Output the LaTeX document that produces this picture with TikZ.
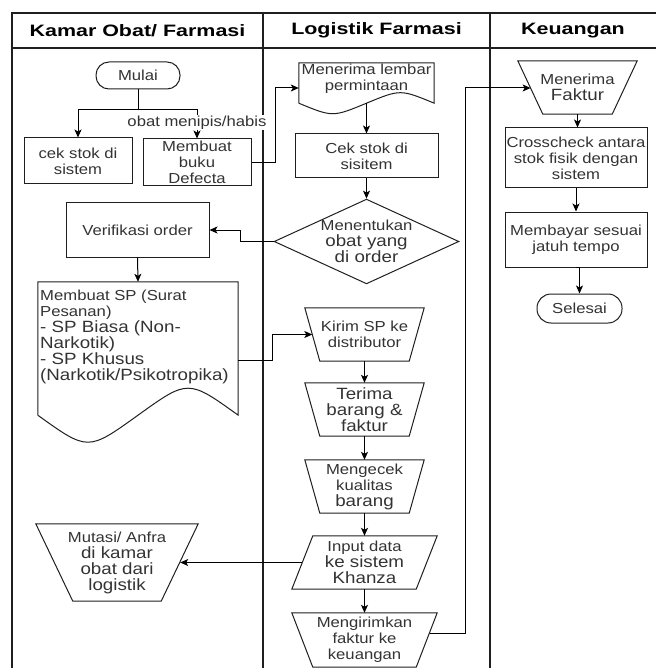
\documentclass[tikz,border=0pt]{standalone}
\usepackage{fontspec}
\setmainfont{Liberation Sans}[FakeStretch=1.15]
\newfontfamily\hfont{Liberation Sans}[FakeStretch=1.3]
\usetikzlibrary{calc,arrows.meta,shapes.geometric}
\definecolor{txtc}{rgb}{0.2,0.2,0.2}
\definecolor{linec}{rgb}{0.12,0.12,0.12}
\newcommand\bigt[1]{{\fontsize{16.3}{16}\selectfont #1}}
\newcommand\invtrap[2]{\draw[shapeline] (#1.north west) -- (#1.north east) -- ($(#1.south east)+(-#2,0)$) -- ($(#1.south west)+(#2,0)$) -- cycle;}
\newcommand\paral[2]{\draw[shapeline] (#1.south west) -- ($(#1.north west)+(#2,0)$) -- (#1.north east) -- ($(#1.south east)+(-#2,0)$) -- cycle;}
\newcommand\docshape[2]{\draw[shapeline] (#1.south west) -- (#1.north west) -- (#1.north east) -- (#1.south east) .. controls ($(#1.south east)!0.25!(#1.south west)+(0,-#2)$) .. (#1.south) .. controls ($(#1.south west)!0.25!(#1.south east)+(0,#2)$) .. (#1.south west);}
\begin{document}
\begin{tikzpicture}[x=1pt,y=-1pt,
  txt/.style={font=\fontsize{14.5}{16}\selectfont, text=txtc, align=center, inner sep=0pt},
  hdr/.style={font=\hfont\bfseries\fontsize{16.5}{18}\selectfont, text=black, inner sep=0pt},
  shapeline/.style={draw=linec, line width=1pt},
  boxn/.style={txt, shapeline, rectangle},
  term/.style={boxn, rounded corners=13pt},
  shp/.style={txt, rectangle, draw=none},
  dia/.style={txt, shapeline, diamond, aspect=2.18},
  lane/.style={draw=linec, line width=1.3pt},
  lbl/.style={txt, fill=white, inner sep=1pt},
  arr/.style={draw=black, line width=1pt, -{Stealth[length=8pt,width=7pt,inset=2pt]}}]
\useasboundingbox (0,0) rectangle (656,668);

% swimlanes
\draw[lane] (12,668) -- (12,13) -- (656,13);
\draw[lane] (12,48) -- (656,48);
\draw[lane] (263,13) -- (263,668);
\draw[lane] (490,13) -- (490,668);
\node[hdr] (h1) at (137.5,30.5) {Kamar Obat/ Farmasi};
\node[hdr] (h2) at (376.5,30.5) {Logistik Farmasi};
\node[hdr] (h3) at (573,30.5) {Keuangan};

% lane 1
\node[term, minimum width=84pt, minimum height=27pt] (mulai) at (138,75.5) {Mulai};
\node[boxn, minimum width=108pt, minimum height=46pt] (cek1) at (78,161) {cek stok di\\sistem};
\node[boxn, minimum width=108pt, minimum height=47pt] (defecta) at (197,162.5) {Membuat\\buku\\Defecta};
\node[boxn, minimum width=143pt, minimum height=54pt] (verif) at (137.5,230) {Verifikasi order};
\node[shp, minimum width=200pt, minimum height=133pt] (spbox) at (138,348.5) {};
\docshape{spbox}{36}
\node[txt, align=left, anchor=west] (sptext) at (40,336.5) {Membuat SP (Surat\\Pesanan)\\\bigt{- SP Biasa (Non-}\\\bigt{Narkotik)}\\\bigt{- SP Khusus}\\\bigt{(Narkotik/Psikotropika)}};
\node[shp, minimum width=162pt, minimum height=77pt] (mutasi) at (117,562.5) {Mutasi/ Anfra\\\bigt{di kamar}\\\bigt{obat dari}\\\bigt{logistik}};
\invtrap{mutasi}{37}

% lane 2
\node[shp, minimum width=135pt, minimum height=40pt] (lembar) at (366.5,83) {};
\docshape{lembar}{14}
\node[txt] (lembartxt) at (366.5,78.5) {Menerima lembar\\permintaan};
\node[boxn, minimum width=143pt, minimum height=44pt] (cek2) at (366.5,156) {Cek stok di\\sisitem};
\node[dia, minimum width=181pt, minimum height=83pt] (dec) at (366.5,241.5) {Menentukan\\\bigt{obat yang}\\\bigt{di order}};
\node[shp, minimum width=119pt, minimum height=53pt] (kirim) at (364.5,334.5) {Kirim SP ke\\distributor};
\invtrap{kirim}{15}
\node[shp, minimum width=119pt, minimum height=53pt] (terima) at (364.5,409.5) {\bigt{Terima}\\\bigt{barang \&}\\\bigt{faktur}};
\invtrap{terima}{15}
\node[shp, minimum width=119pt, minimum height=53pt] (kualitas) at (364.5,486.5) {Mengecek\\kualitas\\\bigt{barang}};
\invtrap{kualitas}{15}
\node[shp, minimum width=145pt, minimum height=53pt] (input) at (364.5,562.5) {Input data\\\bigt{ke sistem}\\\bigt{Khanza}};
\paral{input}{21}
\node[shp, minimum width=145pt, minimum height=54pt] (kirimf) at (364.5,640) {Mengirimkan\\faktur ke\\keuangan};
\invtrap{kirimf}{21}

% lane 3
\node[shp, minimum width=119pt, minimum height=53pt] (faktur) at (577.5,87.5) {Menerima\\\bigt{Faktur}};
\invtrap{faktur}{25}
\node[boxn, minimum width=142pt, minimum height=60pt] (cross) at (576,158) {Crosscheck antara\\stok fisik dengan\\sistem};
\node[boxn, minimum width=142pt, minimum height=55pt] (bayar) at (576,239.5) {Membayar sesuai\\jatuh tempo};
\node[term, minimum width=85pt, minimum height=29pt, rounded corners=14pt] (selesai) at (579.5,308.5) {Selesai};

% connectors
\coordinate (split) at (138,110);
\draw[arr] (mulai.south) -- (split) -| (cek1.north);
\draw[arr] (split) -| node[lbl, pos=0.72] (lblobat) {obat menipis/habis} (defecta.north);
\draw[arr] (defecta.east) -- ++(24,0) |- ($(lembar.west)+(0,5)$);
\draw[arr] (lembar.south) -- (cek2.north);
\draw[arr] (cek2.south) -- (dec.north);
\draw[arr] (dec.west) -- ++(-33.5,0) |- (verif.east);
\draw[arr] (verif.south) -- (spbox.north);
\draw[arr] ($(spbox.east)+(0,11.5)$) -- ++(34,0) |- ($(kirim.west)+(7.5,0)$);
\draw[arr] (kirim.south) -- (terima.north);
\draw[arr] (terima.south) -- (kualitas.north);
\draw[arr] (kualitas.south) -- (input.north);
\draw[arr] (input.south) -- (kirimf.north);
\draw[arr] ($(input.west)+(10.5,0)$) -- ($(mutasi.east)+(-18,0)$);
\draw[arr] ($(kirimf.east)+(-7.5,-7)$) -- (465,633) |- ($(faktur.west)+(12.8,0.5)$);
\draw[arr] (faktur.south) -- (faktur.south |- cross.north);
\draw[arr] (bayar.north |- cross.south) -- (bayar.north);
\draw[arr] (bayar.south) -- (bayar.south -| selesai.north) -- (selesai.north);
\end{tikzpicture}
\end{document}
